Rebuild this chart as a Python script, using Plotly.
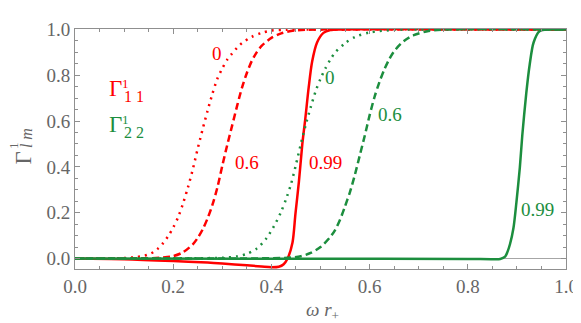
import plotly.graph_objects as go

# ---- data ----
red_dot_x = [0.0, 0.10, 0.12, 0.14, 0.15, 0.16, 0.17, 0.18, 0.19, 0.20, 0.21, 0.22, 0.23, 0.24, 0.25, 0.26, 0.27, 0.28, 0.29, 0.30, 0.31, 0.32, 0.33, 0.34, 0.36, 0.38, 0.40, 0.43, 0.47, 1.0]
red_dot_y = [0.0, 0.002, 0.005, 0.011, 0.018, 0.028, 0.045, 0.068, 0.098, 0.135, 0.18, 0.24, 0.31, 0.39, 0.48, 0.565, 0.645, 0.72, 0.785, 0.83, 0.868, 0.895, 0.92, 0.94, 0.968, 0.985, 0.995, 0.999, 1.0, 1.0]

red_dash_x = [0.0, 0.15, 0.18, 0.20, 0.22, 0.24, 0.25, 0.26, 0.27, 0.28, 0.29, 0.30, 0.31, 0.32, 0.33, 0.34, 0.35, 0.36, 0.37, 0.38, 0.40, 0.42, 0.45, 0.50, 1.0]
red_dash_y = [0.0, 0.001, 0.004, 0.01, 0.027, 0.062, 0.09, 0.127, 0.175, 0.235, 0.31, 0.405, 0.495, 0.58, 0.665, 0.745, 0.81, 0.862, 0.90, 0.928, 0.963, 0.983, 0.996, 1.0, 1.0]

red_sol_x = [0.0, 0.10, 0.20, 0.27, 0.30, 0.35, 0.38, 0.40, 0.415, 0.425, 0.433, 0.443, 0.449, 0.456, 0.463, 0.469, 0.476, 0.483, 0.493, 0.506, 0.52, 0.54, 1.0]
red_sol_y = [0.0, -0.003, -0.011, -0.018, -0.022, -0.030, -0.035, -0.038, -0.036, -0.025, 0.0, 0.07, 0.196, 0.335, 0.50, 0.61, 0.748, 0.86, 0.943, 0.985, 0.997, 1.0, 1.0]

grn_dot_x = [0.0, 0.25, 0.30, 0.33, 0.35, 0.37, 0.39, 0.41, 0.42, 0.43, 0.44, 0.45, 0.46, 0.47, 0.48, 0.49, 0.50, 0.51, 0.52, 0.53, 0.55, 0.57, 0.60, 0.65, 0.70, 1.0]
grn_dot_y = [0.0, 0.001, 0.003, 0.009, 0.02, 0.043, 0.088, 0.16, 0.205, 0.26, 0.325, 0.41, 0.50, 0.585, 0.66, 0.73, 0.785, 0.83, 0.868, 0.90, 0.94, 0.967, 0.987, 0.998, 1.0, 1.0]

grn_dash_x = [0.0, 0.40, 0.44, 0.46, 0.48, 0.50, 0.52, 0.53, 0.54, 0.55, 0.56, 0.57, 0.58, 0.59, 0.60, 0.61, 0.62, 0.63, 0.64, 0.65, 0.67, 0.69, 0.72, 0.76, 1.0]
grn_dash_y = [0.0, 0.001, 0.004, 0.01, 0.024, 0.05, 0.094, 0.125, 0.17, 0.228, 0.29, 0.365, 0.45, 0.535, 0.625, 0.705, 0.77, 0.825, 0.87, 0.905, 0.95, 0.975, 0.993, 1.0, 1.0]

grn_sol_x = [0.0, 0.50, 0.80, 0.85, 0.866, 0.876, 0.881, 0.886, 0.893, 0.899, 0.906, 0.911, 0.919, 0.926, 0.934, 0.946, 0.966, 1.0]
grn_sol_y = [0.0, -0.001, -0.002, -0.003, -0.002, 0.008, 0.03, 0.063, 0.133, 0.245, 0.398, 0.538, 0.72, 0.846, 0.943, 0.992, 1.0, 1.0]

curve_labels = ["0", "0.6", "0.99", "0", "0.6", "0.99"]
label_x = [0.29, 0.351, 0.511, 0.52, 0.641, 0.942]
label_y = [0.893, 0.421, 0.421, 0.792, 0.629, 0.214]

x_ticks = [0.0, 0.2, 0.4, 0.6, 0.8, 1.0]
y_ticks = [0.0, 0.2, 0.4, 0.6, 0.8, 1.0]

RED = "#ff0000"
GREEN = "rgb(28,142,62)"
GRAY = "#666666"
FRAME = "#8f8f8f"
FONT = "Liberation Serif"

fig = go.Figure()

def add(x, y, color, dash):
    fig.add_trace(go.Scatter(x=x, y=y, mode="lines",
                             line=dict(color=color, width=2.5, dash=dash, shape="spline", smoothing=0.8),
                             showlegend=False, hoverinfo="skip"))

add(red_dot_x, red_dot_y, RED, "2px,5px")
add(red_dash_x, red_dash_y, RED, "7px,4px")
add(red_sol_x, red_sol_y, RED, "solid")
add(grn_dot_x, grn_dot_y, GREEN, "2px,5px")
add(grn_dash_x, grn_dash_y, GREEN, "7px,4px")
add(grn_sol_x, grn_sol_y, GREEN, "solid")

colors = [RED, RED, RED, GREEN, GREEN, GREEN]
ann = []
for t, x, y, c in zip(curve_labels, label_x, label_y, colors):
    ann.append(dict(x=x, y=y, xref="x", yref="y", text=t, showarrow=False,
                    font=dict(family=FONT, size=19, color=c), xanchor="center", yanchor="middle"))

# legend-like labels (Γ with stacked super/subscripts)
def gamma_label(xg, yg, sub, color):
    ann.append(dict(x=xg, y=yg, xref="x", yref="y", text="Γ", showarrow=False,
                    font=dict(family=FONT, size=23, color=color), xanchor="center", yanchor="middle"))
    ann.append(dict(x=xg + 0.021, y=yg + 0.024, xref="x", yref="y", text="1", showarrow=False,
                    font=dict(family=FONT, size=13, color=color), xanchor="center", yanchor="middle"))
    ann.append(dict(x=xg + 0.039, y=yg - 0.036, xref="x", yref="y", text=sub, showarrow=False,
                    font=dict(family=FONT, size=16, color=color), xanchor="center", yanchor="middle"))

gamma_label(0.082, 0.742, "1 1", RED)
gamma_label(0.082, 0.585, "2 2", GREEN)

# y axis title (rotated pieces)
ann.append(dict(x=-0.104, y=0.464, xref="paper", yref="paper", text="Γ", showarrow=False, textangle=-90,
                font=dict(family=FONT, size=23, color=GRAY), xanchor="center", yanchor="middle"))
ann.append(dict(x=-0.125, y=0.515, xref="paper", yref="paper", text="1", showarrow=False, textangle=-90,
                font=dict(family=FONT, size=13, color=GRAY), xanchor="center", yanchor="middle"))
ann.append(dict(x=-0.100, y=0.545, xref="paper", yref="paper", text="<i>l m</i>", showarrow=False, textangle=-90,
                font=dict(family=FONT, size=16, color=GRAY), xanchor="center", yanchor="middle"))
# x axis title
ann.append(dict(x=0.504, y=-0.175, xref="paper", yref="paper", text="<i>ω r</i><sub>+</sub>", showarrow=False,
                font=dict(family=FONT, size=19, color=GRAY), xanchor="center", yanchor="middle"))

axis_common = dict(showline=True, linecolor=FRAME, linewidth=1, mirror="ticks", ticks="inside",
                   ticklen=5, tickcolor=FRAME, tickwidth=1, showgrid=False,
                   tickfont=dict(family=FONT, size=19, color=GRAY),
                   minor=dict(ticks="inside", ticklen=3, tickcolor=FRAME, dtick=0.05, showgrid=False))

fig.update_layout(
    width=581, height=323,
    margin=dict(l=67, r=14, t=11, b=62),
    plot_bgcolor="white", paper_bgcolor="white",
    annotations=ann,
    xaxis=dict(range=[0, 1], tickvals=x_ticks, ticktext=[f"{v:.1f}" for v in x_ticks],
               zeroline=False, **axis_common),
    yaxis=dict(range=[-0.046, 1.002], tickvals=y_ticks, ticktext=[f"{v:.1f}" for v in y_ticks],
               zeroline=True, zerolinecolor="#a6a6a6", zerolinewidth=1, **axis_common),
)

fig.write_html("out.html")
